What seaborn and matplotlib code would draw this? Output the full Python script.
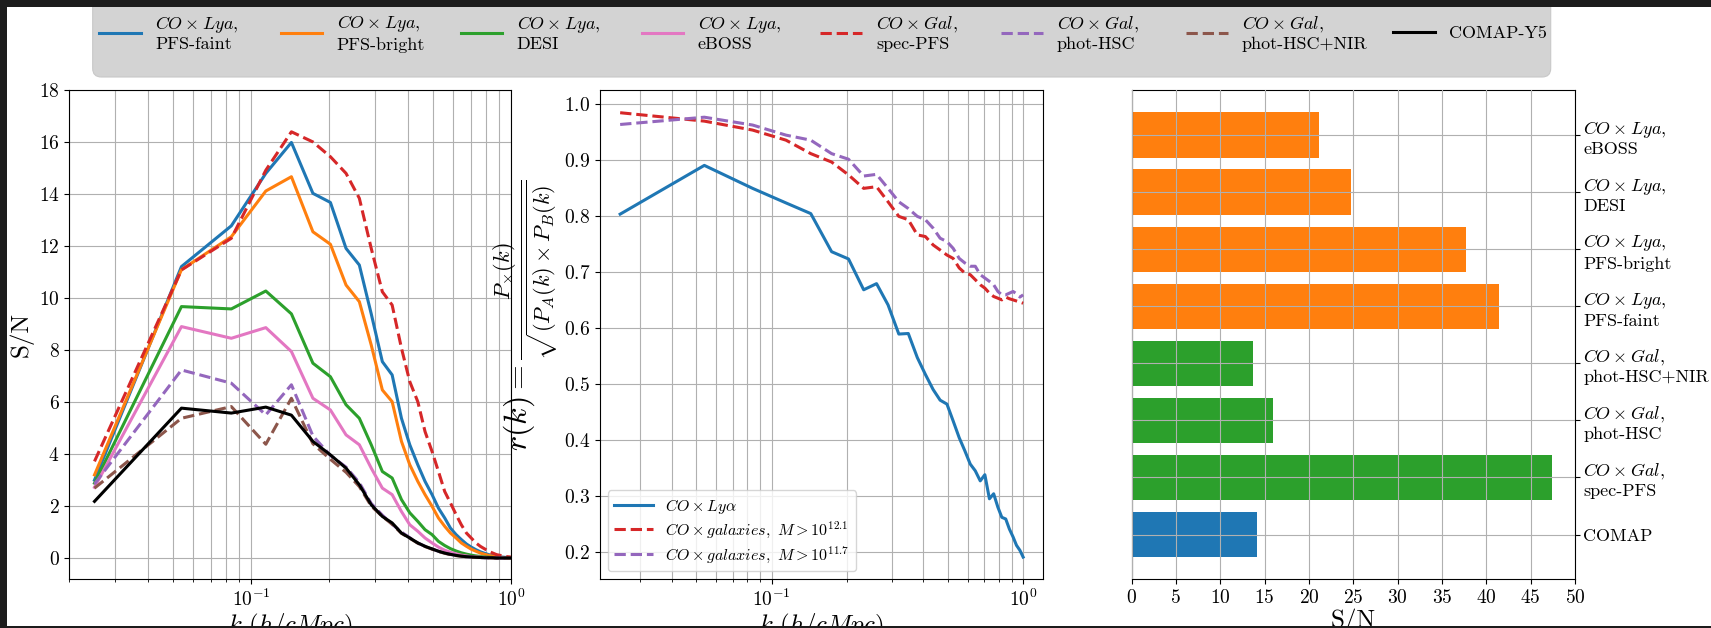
import numpy as np
import matplotlib
matplotlib.use("Agg")
import matplotlib.pyplot as plt
from matplotlib.patches import FancyBboxPatch, Rectangle
import seaborn as sns

plt.rcParams.update({
    "font.family": ["cmr10", "DejaVu Serif"],
    "mathtext.fontset": "cm",
    "axes.formatter.use_mathtext": True,
    "xtick.labelsize": 14,
    "ytick.labelsize": 14,
    "axes.labelsize": 18,
})

# ---------------- data ----------------
k = [0.025, 0.054, 0.084, 0.114, 0.143, 0.173, 0.202, 0.232, 0.261, 0.290,
     0.320, 0.349, 0.379, 0.408, 0.438, 0.467, 0.497, 0.526, 0.556, 0.585,
     0.615, 0.644, 0.674, 0.703, 0.733, 0.762, 0.792, 0.821, 0.851, 0.880,
     0.910, 0.939, 0.969, 0.998]

sn_pfs_faint = [3.0, 11.22, 12.79, 14.81, 16.0, 14.04, 13.69, 11.92, 11.28, 9.4,
                7.56, 7.05, 5.38, 4.36, 3.59, 2.95, 2.44, 1.92, 1.54, 1.15,
                0.90, 0.71, 0.54, 0.42, 0.32, 0.24, 0.18, 0.13, 0.09, 0.06,
                0.04, 0.03, 0.02, 0.01]
sn_pfs_bright = [3.2, 11.1, 12.37, 14.13, 14.68, 12.56, 12.08, 10.51, 9.87, 8.2,
                 6.47, 6.02, 4.49, 3.59, 2.95, 2.44, 1.99, 1.54, 1.22, 0.96,
                 0.77, 0.58, 0.45, 0.34, 0.26, 0.19, 0.14, 0.10, 0.07, 0.05,
                 0.03, 0.02, 0.01, 0.01]
sn_desi = [2.88, 9.68, 9.59, 10.28, 9.40, 7.50, 6.98, 5.90, 5.38, 4.36,
           3.33, 3.08, 2.25, 1.74, 1.41, 1.09, 0.90, 0.64, 0.48, 0.36,
           0.27, 0.20, 0.15, 0.11, 0.08, 0.06, 0.04, 0.03, 0.02, 0.01,
           0.01, 0.01, 0.0, 0.0]
sn_eboss = [2.72, 8.91, 8.46, 8.87, 7.95, 6.15, 5.70, 4.74, 4.36, 3.46,
            2.69, 2.44, 1.79, 1.28, 1.03, 0.77, 0.58, 0.42, 0.30, 0.22,
            0.16, 0.11, 0.08, 0.05, 0.04, 0.03, 0.02, 0.01, 0.01, 0.0,
            0.0, 0.0, 0.0, 0.0]
sn_spec_pfs = [3.72, 11.09, 12.31, 14.93, 16.41, 16.02, 15.45, 14.81, 13.85, 11.92,
               10.25, 9.74, 8.08, 6.79, 6.02, 4.87, 4.10, 3.33, 2.56, 2.12,
               1.67, 1.28, 0.96, 0.77, 0.58, 0.45, 0.35, 0.26, 0.19, 0.13,
               0.10, 0.07, 0.05, 0.04]
sn_phot_hsc = [2.85, 7.24, 6.73, 5.51, 6.67, 4.70, 3.95, 3.50, 2.90, 2.10,
               1.65, 1.30, 1.00, 0.78, 0.58, 0.45, 0.35, 0.26, 0.19, 0.14,
               0.10, 0.07, 0.05, 0.04, 0.03, 0.02, 0.01, 0.01, 0.0, 0.0,
               0.0, 0.0, 0.0, 0.0]
sn_phot_nir = [2.69, 5.38, 5.83, 4.38, 6.15, 4.40, 3.80, 3.30, 2.75, 2.00,
               1.60, 1.30, 0.95, 0.76, 0.57, 0.44, 0.34, 0.25, 0.18, 0.13,
               0.09, 0.07, 0.05, 0.03, 0.02, 0.02, 0.01, 0.01, 0.0, 0.0,
               0.0, 0.0, 0.0, 0.0]
sn_comap = [2.18, 5.77, 5.58, 5.81, 5.50, 4.49, 3.97, 3.46, 2.82, 2.05,
            1.60, 1.35, 0.96, 0.77, 0.58, 0.45, 0.35, 0.26, 0.19, 0.14,
            0.10, 0.07, 0.05, 0.04, 0.03, 0.02, 0.01, 0.01, 0.01, 0.0,
            0.0, 0.0, 0.0, 0.0]

r_lya = [0.803, 0.890, 0.849, 0.823, 0.804, 0.736, 0.723, 0.668, 0.679, 0.641,
         0.589, 0.590, 0.547, 0.517, 0.490, 0.471, 0.464, 0.434, 0.404, 0.381,
         0.357, 0.345, 0.327, 0.338, 0.295, 0.304, 0.280, 0.262, 0.259, 0.241,
         0.227, 0.212, 0.203, 0.191]
r_gal_121 = [0.984, 0.969, 0.953, 0.935, 0.911, 0.896, 0.873, 0.849, 0.852, 0.825,
             0.799, 0.793, 0.766, 0.763, 0.748, 0.739, 0.730, 0.724, 0.707, 0.698,
             0.695, 0.686, 0.677, 0.671, 0.662, 0.656, 0.653, 0.650, 0.655, 0.652,
             0.650, 0.648, 0.646, 0.644]
r_gal_117 = [0.963, 0.976, 0.962, 0.944, 0.935, 0.911, 0.901, 0.871, 0.874, 0.849,
             0.825, 0.813, 0.799, 0.793, 0.778, 0.760, 0.754, 0.742, 0.724, 0.716,
             0.710, 0.710, 0.695, 0.689, 0.683, 0.677, 0.665, 0.659, 0.659, 0.662,
             0.665, 0.661, 0.655, 0.659]

bar_labels = [r"$CO \times Lya$," + "\neBOSS",
              r"$CO \times Lya$," + "\nDESI",
              r"$CO \times Lya$," + "\nPFS-bright",
              r"$CO \times Lya$," + "\nPFS-faint",
              r"$CO \times Gal$," + "\nphot-HSC+NIR",
              r"$CO \times Gal$," + "\nphot-HSC",
              r"$CO \times Gal$," + "\nspec-PFS",
              "COMAP"]
bar_values = [21.1, 24.7, 37.7, 41.4, 13.7, 16.0, 47.4, 14.2]
bar_colors = ["#ff7f0e"] * 4 + ["#2ca02c"] * 3 + ["#1f77b4"]

left_series = [
    (r"$CO \times Lya$," + "\nPFS-faint", sn_pfs_faint, "#1f77b4", "-"),
    (r"$CO \times Lya$," + "\nPFS-bright", sn_pfs_bright, "#ff7f0e", "-"),
    (r"$CO \times Lya$," + "\nDESI", sn_desi, "#2ca02c", "-"),
    (r"$CO \times Lya$," + "\neBOSS", sn_eboss, "#e377c2", "-"),
    (r"$CO \times Gal$," + "\nspec-PFS", sn_spec_pfs, "#d62728", "--"),
    (r"$CO \times Gal$," + "\nphot-HSC", sn_phot_hsc, "#9467bd", "--"),
    (r"$CO \times Gal$," + "\nphot-HSC+NIR", sn_phot_nir, "#8c564b", "--"),
    ("COMAP-Y5", sn_comap, "black", "-"),
]
mid_series = [
    (r"$CO \times Ly\alpha$", r_lya, "#1f77b4", "-"),
    (r"$CO \times galaxies,\ M > 10^{12.1}$", r_gal_121, "#d62728", "--"),
    (r"$CO \times galaxies,\ M > 10^{11.7}$", r_gal_117, "#9467bd", "--"),
]

# ---------------- figure ----------------
W, H = 1711, 628
fig = plt.figure(figsize=(W / 100, H / 100), dpi=100, facecolor="white")
ax1 = fig.add_axes([69.3 / W, 1 - 579.3 / H, 441.7 / W, 488.8 / H])
ax2 = fig.add_axes([600.0 / W, 1 - 579.3 / H, 443.3 / W, 488.8 / H])
ax3 = fig.add_axes([1131.5 / W, 1 - 579.3 / H, 443.5 / W, 488.8 / H])

# left panel
for lab, vals, col, ls in left_series:
    sns.lineplot(x=k, y=vals, ax=ax1, color=col, linestyle=ls, linewidth=2.2)
ax1.set_xscale("log")
ax1.set_xlim(0.02, 1.0)
ax1.set_ylim(-0.82, 18)
ax1.set_yticks(range(0, 19, 2))
ax1.grid(True, which="both", axis="x")
ax1.grid(True, which="major", axis="y")
ax1.set_xlabel(r"$k\ (h/cMpc)$", labelpad=1)
ax1.set_ylabel("S/N")
left_lines = list(ax1.get_lines())

# middle panel
for lab, vals, col, ls in mid_series:
    sns.lineplot(x=k, y=vals, ax=ax2, color=col, linestyle=ls, linewidth=2.2, label=lab)
ax2.set_xscale("log")
ax2.grid(True, which="both", axis="x")
ax2.grid(True, which="major", axis="y")
ax2.set_xlabel(r"$k\ (h/cMpc)$", labelpad=1)
ax2.set_ylabel(r"$r(k) = \frac{P_{\times}(k)}{\sqrt{(P_A(k) \times P_B(k)}}$", fontsize=23)
ax2.yaxis.set_label_coords(-0.088, 0.54)
ax2.legend(loc="lower left", fontsize=11.5, handlelength=2.4, labelspacing=0.25)

# right panel
sns.barplot(x=bar_values, y=bar_labels, hue=bar_labels, palette=bar_colors,
            saturation=1, orient="h", ax=ax3, legend=False, width=0.8)
ax3.set_ylim(7.785, -0.785)
ax3.set_xlim(0, 50)
ax3.set_xticks(range(0, 51, 5))
ax3.yaxis.tick_right()
ax3.tick_params(axis="y", labelsize=13, pad=2.5)
ax3.grid(True, axis="both")
ax3.set_axisbelow(False)
ax3.set_xlabel("S/N", labelpad=1)
ax3.set_ylabel("")

# top legend with grey rounded background
fig.add_artist(FancyBboxPatch((92.7 / W, 1 - 77 / H), (1550.7 - 92.7) / W, 90 / H,
                              boxstyle="round,pad=0,rounding_size=0.005",
                              mutation_aspect=W / H, transform=fig.transFigure,
                              facecolor="#d3d3d3", edgecolor="#c8c8c8", linewidth=0.8,
                              zorder=1))
entry_x = [99.3, 280.7, 460.8, 641.8, 820.0, 1001.0, 1186.0, 1393.0]
for line, (lab, _, _, _), ex in zip(left_lines, left_series, entry_x):
    fig.legend([line], [lab], loc="center left",
               bbox_to_anchor=(ex / W, 1 - 33 / H), bbox_transform=fig.transFigure,
               frameon=False, fontsize=13, handlelength=2.3, handletextpad=0.8,
               borderpad=0, borderaxespad=0)

# screenshot dark edges
dark = "#1c1c1c"
fig.add_artist(Rectangle((0, 1 - 7.3 / H), 1, 7.3 / H, transform=fig.transFigure,
                         facecolor=dark, edgecolor="none", zorder=100))
fig.add_artist(Rectangle((0, 0), 6.7 / W, 1, transform=fig.transFigure,
                         facecolor=dark, edgecolor="none", zorder=100))
fig.add_artist(Rectangle((0, 0), 1, 2.5 / H, transform=fig.transFigure,
                         facecolor=dark, edgecolor="none", zorder=100))

fig.savefig("out.png", dpi=100, facecolor=fig.get_facecolor())
